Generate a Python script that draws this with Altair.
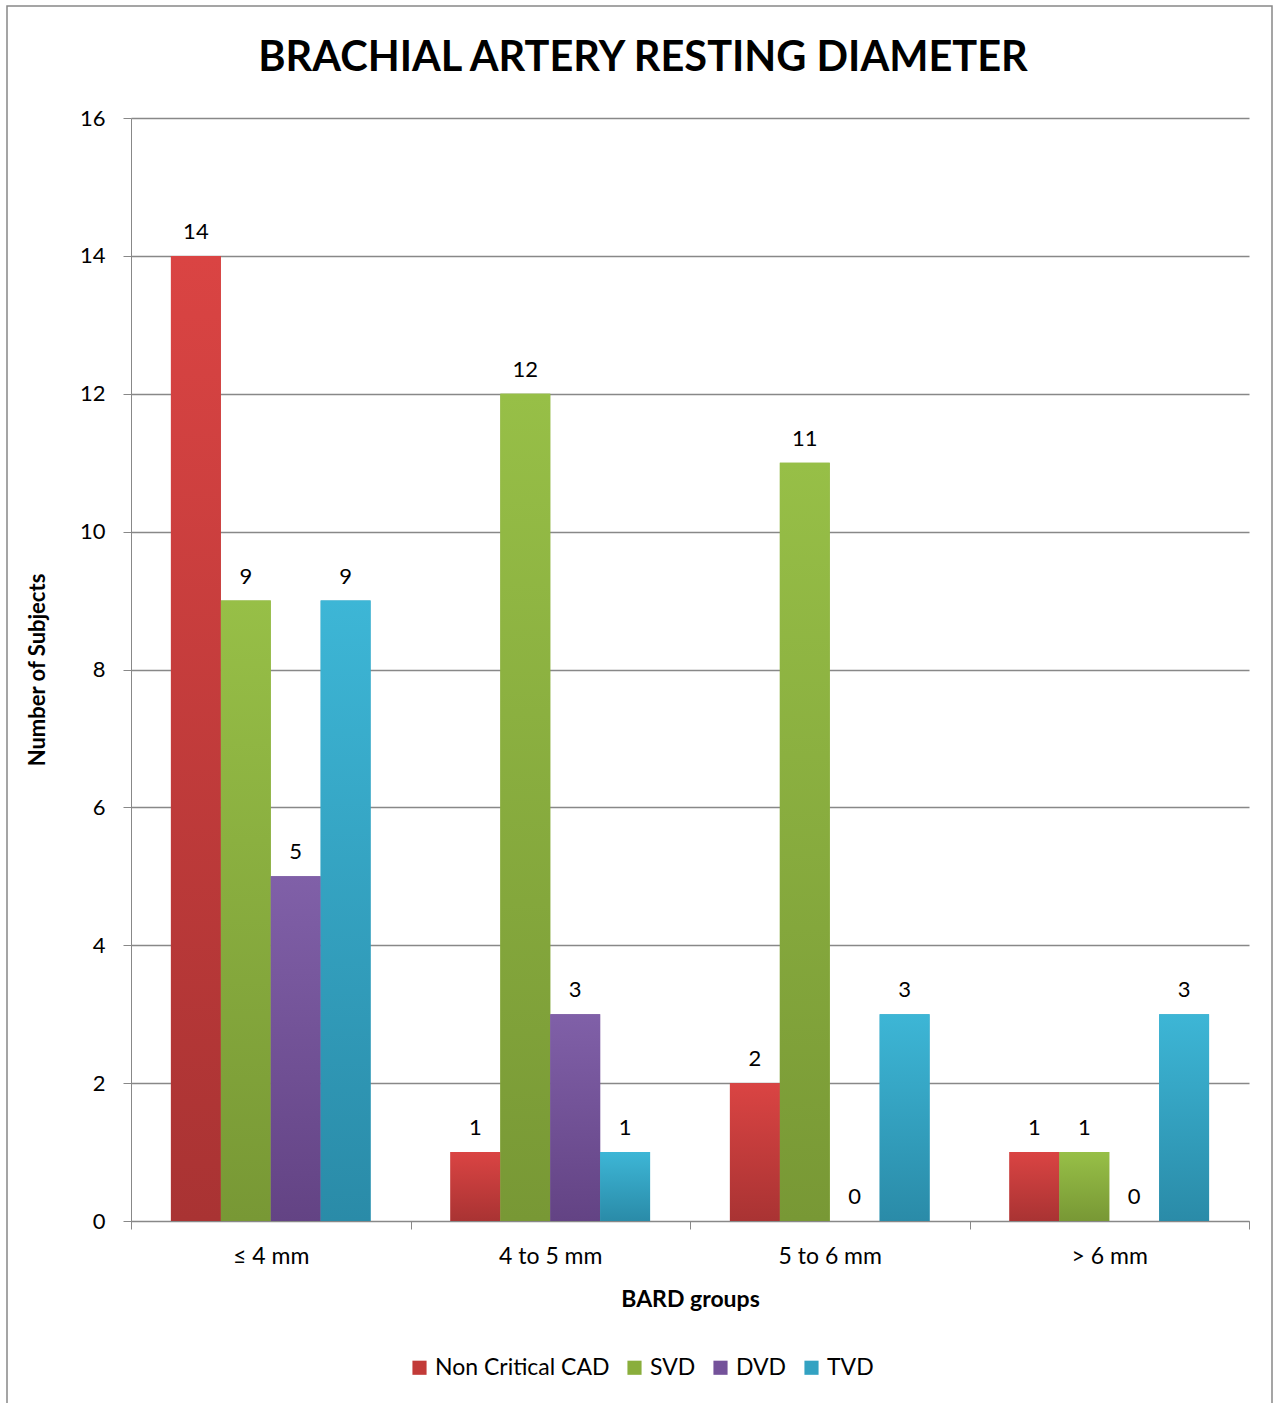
import altair as alt
import pandas as pd

categories = ["≤ 4 mm", "4 to 5 mm", "5 to 6  mm", "> 6 mm"]
series = ["Non Critical CAD", "SVD", "DVD", "TVD"]
colors = ["#C23A38", "#8AAE3C", "#74529A", "#33A2C2"]
grad_top = ["#DA4443", "#97BF47", "#8060A8", "#3DB6D6"]
grad_bottom = ["#A93333", "#789835", "#634384", "#2A8BA8"]
values = {
    "Non Critical CAD": [14, 1, 2, 1],
    "SVD": [9, 12, 11, 1],
    "DVD": [5, 3, 0, 0],
    "TVD": [9, 1, 3, 3],
}

rows = []
for s in series:
    for c, v in zip(categories, values[s]):
        rows.append({"group": c, "series": s, "count": v})
df = pd.DataFrame(rows)

FONT = "Lato"
W, H = 1118, 1103
LEFT, TOP = 131, 118

x_enc = alt.X(
    "group:N",
    sort=categories,
    scale=alt.Scale(paddingInner=0, paddingOuter=0),
    axis=alt.Axis(
        title="BARD groups",
        labelAngle=0,
        tickBand="extent",
        tickSize=8,
        tickColor="#888888",
        domainColor="#888888",
        labelPadding=16,
        titlePadding=20,
        labelFontSize=23,
        titleFontSize=23,
        titleFontWeight="bold",
        labelColor="black",
        titleColor="black",
        grid=False,
    ),
)
xo_enc = alt.XOffset(
    "series:N",
    sort=series,
    scale=alt.Scale(domain=series, paddingInner=0, paddingOuter=0.8),
)
y_enc = alt.Y(
    "count:Q",
    scale=alt.Scale(domain=[0, 16]),
    axis=alt.Axis(
        title="Number of Subjects",
        values=list(range(0, 17, 2)),
        format="d",
        tickSize=8,
        tickColor="#888888",
        domainColor="#888888",
        gridColor="#888888",
        gridWidth=1.5,
        labelPadding=18,
        titlePadding=30,
        labelFontSize=22,
        titleFontSize=22,
        titleFontWeight="bold",
        labelColor="black",
        titleColor="black",
    ),
)

base_bars = alt.Chart(df).mark_bar(stroke=None).encode(
    x=x_enc,
    xOffset=xo_enc,
    y=y_enc,
    color=alt.Color(
        "series:N",
        sort=series,
        scale=alt.Scale(domain=series, range=colors),
        legend=alt.Legend(
            title=None,
            orient="none",
            direction="horizontal",
            legendX=277,
            legendY=1238,
            symbolType="square",
            symbolSize=200,
            symbolStrokeWidth=0,
            labelFontSize=23,
            labelColor="black",
            labelLimit=400,
            columnPadding=13,
            labelOffset=4,
        ),
    ),
)

grad_layers = []
for s, t, b in zip(series, grad_top, grad_bottom):
    grad_layers.append(
        alt.Chart(df[df["series"] == s]).mark_bar(
            stroke=None,
            fill=alt.Gradient(
                gradient="linear",
                stops=[
                    alt.GradientStop(color=t, offset=0),
                    alt.GradientStop(color=b, offset=1),
                ],
                x1=0, x2=0, y1=0, y2=1,
            ),
        ).encode(
            x=alt.X("group:N", sort=categories),
            xOffset=alt.XOffset("series:N", sort=series),
            y=alt.Y("count:Q"),
        )
    )

labels = alt.Chart(df).mark_text(
    baseline="bottom", dy=-12, fontSize=22, font=FONT, color="black"
).encode(
    x=alt.X("group:N", sort=categories),
    xOffset=alt.XOffset("series:N", sort=series),
    y=alt.Y("count:Q"),
    text=alt.Text("count:Q"),
)

one = alt.Data(values=[{"a": 1}])

border = alt.Chart(one).mark_rect(
    fill=None, stroke="#888888", strokeWidth=1.5, clip=False
).encode(
    x=alt.value(7 - LEFT),
    x2=alt.value(1272 - LEFT),
    y=alt.value(6 - TOP),
    y2=alt.value(1420 - TOP),
)

title = alt.Chart(one).mark_text(
    text="BRACHIAL ARTERY RESTING DIAMETER",
    fontSize=41.5,
    fontWeight="bold",
    font=FONT,
    color="black",
    align="center",
    baseline="middle",
    clip=False,
).encode(
    x=alt.value(643 - LEFT),
    y=alt.value(59 - TOP),
)

chart = alt.layer(border, title, base_bars, *grad_layers, labels).properties(
    width=W,
    height=H,
    padding={"left": LEFT, "top": TOP, "right": 1284 - LEFT - W, "bottom": 1403 - TOP - H},
    autosize=alt.AutoSizeParams(type="none"),
).configure(
    font=FONT,
    background="white",
).configure_view(stroke=None).configure_axis(
    labelFont=FONT, titleFont=FONT
).configure_legend(labelFont=FONT)

chart.save("out.html", embed_options={"renderer": "svg", "actions": False})
